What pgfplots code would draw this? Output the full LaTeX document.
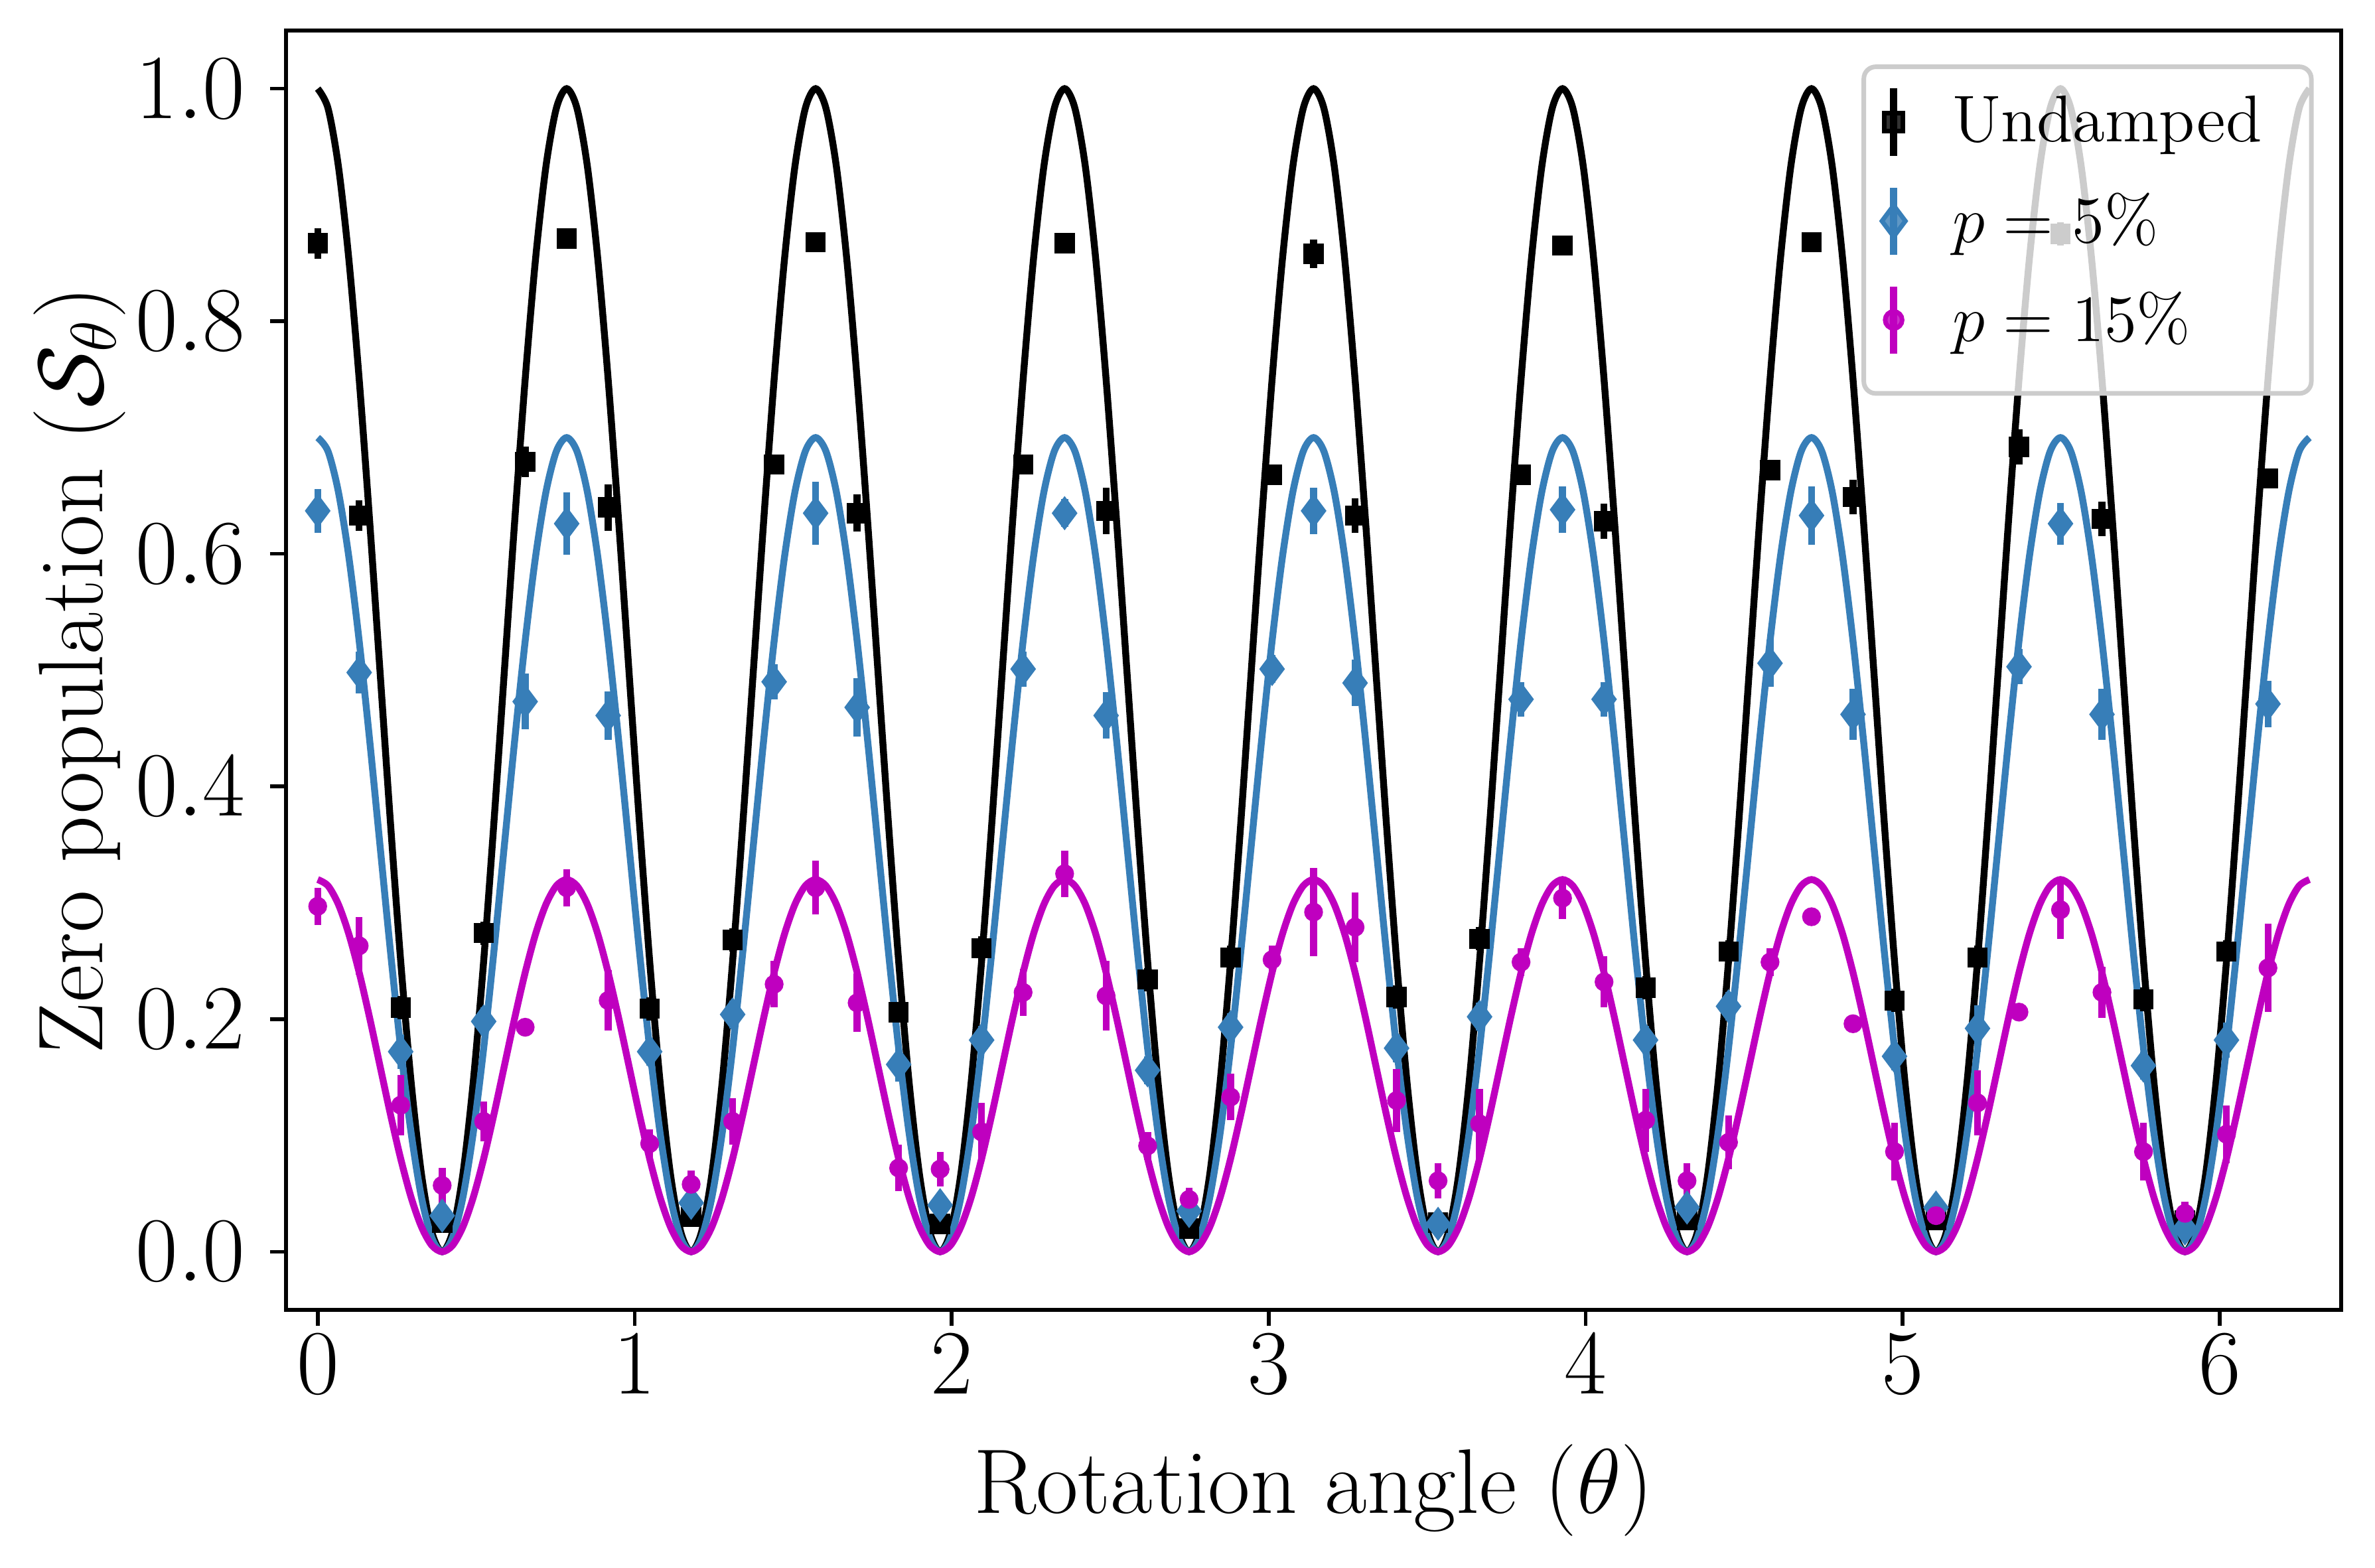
\RequirePackage{fix-cm}
\documentclass[border=0pt]{standalone}
\usepackage{pgfplots}
\usepackage{pgfplotstable}
\pgfplotsset{compat=1.18}
\definecolor{cblue}{RGB}{55,126,184}
\definecolor{cmag}{RGB}{191,0,191}

\pgfplotstableread{
x a b c
0.00000 1 0.7 0.32
0.03272 0.98296 0.68807 0.31455
0.06545 0.93301 0.65311 0.29856
0.09817 0.85355 0.59749 0.27314
0.13090 0.75 0.525 0.24
0.16362 0.62941 0.44059 0.20141
0.19635 0.5 0.35 0.16
0.22907 0.37059 0.25941 0.11859
0.26180 0.25 0.175 0.08
0.29452 0.14645 0.10252 0.04686
0.32725 0.06699 0.04689 0.02144
0.35997 0.01704 0.01193 0.00545
0.39270 0 0 0
0.42542 0.01704 0.01193 0.00545
0.45815 0.06699 0.04689 0.02144
0.49087 0.14645 0.10252 0.04686
0.52360 0.25 0.175 0.08
0.55632 0.37059 0.25941 0.11859
0.58905 0.5 0.35 0.16
0.62177 0.62941 0.44059 0.20141
0.65450 0.75 0.525 0.24
0.68722 0.85355 0.59749 0.27314
0.71995 0.93301 0.65311 0.29856
0.75267 0.98296 0.68807 0.31455
0.78540 1 0.7 0.32
0.81812 0.98296 0.68807 0.31455
0.85085 0.93301 0.65311 0.29856
0.88357 0.85355 0.59749 0.27314
0.91630 0.75 0.525 0.24
0.94902 0.62941 0.44059 0.20141
0.98175 0.5 0.35 0.16
1.01447 0.37059 0.25941 0.11859
1.04720 0.25 0.175 0.08
1.07992 0.14645 0.10252 0.04686
1.11265 0.06699 0.04689 0.02144
1.14537 0.01704 0.01193 0.00545
1.17810 0 0 0
1.21082 0.01704 0.01193 0.00545
1.24355 0.06699 0.04689 0.02144
1.27627 0.14645 0.10252 0.04686
1.30900 0.25 0.175 0.08
1.34172 0.37059 0.25941 0.11859
1.37445 0.5 0.35 0.16
1.40717 0.62941 0.44059 0.20141
1.43990 0.75 0.525 0.24
1.47262 0.85355 0.59749 0.27314
1.50535 0.93301 0.65311 0.29856
1.53807 0.98296 0.68807 0.31455
1.57080 1 0.7 0.32
1.60352 0.98296 0.68807 0.31455
1.63625 0.93301 0.65311 0.29856
1.66897 0.85355 0.59749 0.27314
1.70170 0.75 0.525 0.24
1.73442 0.62941 0.44059 0.20141
1.76715 0.5 0.35 0.16
1.79987 0.37059 0.25941 0.11859
1.83260 0.25 0.175 0.08
1.86532 0.14645 0.10252 0.04686
1.89805 0.06699 0.04689 0.02144
1.93077 0.01704 0.01193 0.00545
1.96350 0 0 0
1.99622 0.01704 0.01193 0.00545
2.02895 0.06699 0.04689 0.02144
2.06167 0.14645 0.10252 0.04686
2.09440 0.25 0.175 0.08
2.12712 0.37059 0.25941 0.11859
2.15985 0.5 0.35 0.16
2.19257 0.62941 0.44059 0.20141
2.22530 0.75 0.525 0.24
2.25802 0.85355 0.59749 0.27314
2.29075 0.93301 0.65311 0.29856
2.32347 0.98296 0.68807 0.31455
2.35619 1 0.7 0.32
2.38891 0.98296 0.68807 0.31455
2.42164 0.93301 0.65311 0.29856
2.45436 0.85355 0.59749 0.27314
2.48709 0.75 0.525 0.24
2.51981 0.62941 0.44059 0.20141
2.55254 0.5 0.35 0.16
2.58526 0.37059 0.25941 0.11859
2.61799 0.25 0.175 0.08
2.65071 0.14645 0.10252 0.04686
2.68344 0.06699 0.04689 0.02144
2.71616 0.01704 0.01193 0.00545
2.74889 0 0 0
2.78161 0.01704 0.01193 0.00545
2.81434 0.06699 0.04689 0.02144
2.84706 0.14645 0.10252 0.04686
2.87979 0.25 0.175 0.08
2.91251 0.37059 0.25941 0.11859
2.94524 0.5 0.35 0.16
2.97796 0.62941 0.44059 0.20141
3.01069 0.75 0.525 0.24
3.04341 0.85355 0.59749 0.27314
3.07614 0.93301 0.65311 0.29856
3.10886 0.98296 0.68807 0.31455
3.14159 1 0.7 0.32
3.17431 0.98296 0.68807 0.31455
3.20704 0.93301 0.65311 0.29856
3.23976 0.85355 0.59749 0.27314
3.27249 0.75 0.525 0.24
3.30521 0.62941 0.44059 0.20141
3.33794 0.5 0.35 0.16
3.37066 0.37059 0.25941 0.11859
3.40339 0.25 0.175 0.08
3.43611 0.14645 0.10252 0.04686
3.46884 0.06699 0.04689 0.02144
3.50156 0.01704 0.01193 0.00545
3.53429 0 0 0
3.56701 0.01704 0.01193 0.00545
3.59974 0.06699 0.04689 0.02144
3.63246 0.14645 0.10252 0.04686
3.66519 0.25 0.175 0.08
3.69791 0.37059 0.25941 0.11859
3.73064 0.5 0.35 0.16
3.76336 0.62941 0.44059 0.20141
3.79609 0.75 0.525 0.24
3.82881 0.85355 0.59749 0.27314
3.86154 0.93301 0.65311 0.29856
3.89426 0.98296 0.68807 0.31455
3.92699 1 0.7 0.32
3.95971 0.98296 0.68807 0.31455
3.99244 0.93301 0.65311 0.29856
4.02516 0.85355 0.59749 0.27314
4.05789 0.75 0.525 0.24
4.09061 0.62941 0.44059 0.20141
4.12334 0.5 0.35 0.16
4.15606 0.37059 0.25941 0.11859
4.18879 0.25 0.175 0.08
4.22151 0.14645 0.10252 0.04686
4.25424 0.06699 0.04689 0.02144
4.28696 0.01704 0.01193 0.00545
4.31969 0 0 0
4.35241 0.01704 0.01193 0.00545
4.38514 0.06699 0.04689 0.02144
4.41786 0.14645 0.10252 0.04686
4.45059 0.25 0.175 0.08
4.48331 0.37059 0.25941 0.11859
4.51604 0.5 0.35 0.16
4.54876 0.62941 0.44059 0.20141
4.58149 0.75 0.525 0.24
4.61421 0.85355 0.59749 0.27314
4.64694 0.93301 0.65311 0.29856
4.67966 0.98296 0.68807 0.31455
4.71239 1 0.7 0.32
4.74511 0.98296 0.68807 0.31455
4.77784 0.93301 0.65311 0.29856
4.81056 0.85355 0.59749 0.27314
4.84329 0.75 0.525 0.24
4.87601 0.62941 0.44059 0.20141
4.90874 0.5 0.35 0.16
4.94146 0.37059 0.25941 0.11859
4.97419 0.25 0.175 0.08
5.00691 0.14645 0.10252 0.04686
5.03964 0.06699 0.04689 0.02144
5.07236 0.01704 0.01193 0.00545
5.10509 0 0 0
5.13781 0.01704 0.01193 0.00545
5.17054 0.06699 0.04689 0.02144
5.20326 0.14645 0.10252 0.04686
5.23599 0.25 0.175 0.08
5.26871 0.37059 0.25941 0.11859
5.30144 0.5 0.35 0.16
5.33416 0.62941 0.44059 0.20141
5.36689 0.75 0.525 0.24
5.39961 0.85355 0.59749 0.27314
5.43234 0.93301 0.65311 0.29856
5.46506 0.98296 0.68807 0.31455
5.49779 1 0.7 0.32
5.53051 0.98296 0.68807 0.31455
5.56324 0.93301 0.65311 0.29856
5.59596 0.85355 0.59749 0.27314
5.62869 0.75 0.525 0.24
5.66141 0.62941 0.44059 0.20141
5.69414 0.5 0.35 0.16
5.72686 0.37059 0.25941 0.11859
5.75959 0.25 0.175 0.08
5.79231 0.14645 0.10252 0.04686
5.82504 0.06699 0.04689 0.02144
5.85776 0.01704 0.01193 0.00545
5.89049 0 0 0
5.92321 0.01704 0.01193 0.00545
5.95594 0.06699 0.04689 0.02144
5.98866 0.14645 0.10252 0.04686
6.02139 0.25 0.175 0.08
6.05411 0.37059 0.25941 0.11859
6.08684 0.5 0.35 0.16
6.11956 0.62941 0.44059 0.20141
6.15229 0.75 0.525 0.24
6.18501 0.85355 0.59749 0.27314
6.21774 0.93301 0.65311 0.29856
6.25046 0.98296 0.68807 0.31455
6.28319 1 0.7 0.32
}\curves

\pgfplotstableread{
x y e
0.0000 0.867 0.013
0.1309 0.633 0.013
0.2618 0.210 0.010
0.3927 0.025 0.008
0.5236 0.274 0.010
0.6545 0.679 0.013
0.7854 0.871 0.008
0.9163 0.640 0.020
1.0472 0.209 0.010
1.1781 0.030 0.008
1.3090 0.268 0.010
1.4399 0.677 0.008
1.5708 0.868 0.008
1.7017 0.635 0.016
1.8326 0.206 0.008
1.9635 0.024 0.008
2.0944 0.261 0.010
2.2253 0.677 0.008
2.3562 0.867 0.008
2.4871 0.637 0.020
2.6180 0.234 0.010
2.7489 0.020 0.008
2.8798 0.253 0.010
3.0107 0.668 0.008
3.1416 0.858 0.012
3.2725 0.633 0.015
3.4034 0.219 0.010
3.5343 0.025 0.008
3.6652 0.269 0.010
3.7961 0.668 0.008
3.9270 0.865 0.008
4.0579 0.628 0.015
4.1888 0.227 0.010
4.3197 0.027 0.008
4.4506 0.258 0.010
4.5815 0.672 0.008
4.7124 0.868 0.008
4.8433 0.649 0.015
4.9742 0.216 0.010
5.1051 0.027 0.008
5.2360 0.253 0.010
5.3669 0.692 0.015
5.4978 0.875 0.010
5.6287 0.630 0.015
5.7596 0.217 0.010
5.8905 0.027 0.008
6.0214 0.258 0.010
6.1523 0.665 0.008
}\blackdata

\pgfplotstableread{
x y e
0.0000 0.637 0.019
0.1309 0.498 0.018
0.2618 0.172 0.015
0.3927 0.031 0.010
0.5236 0.198 0.012
0.6545 0.473 0.024
0.7854 0.626 0.027
0.9163 0.461 0.021
1.0472 0.172 0.012
1.1781 0.042 0.010
1.3090 0.204 0.012
1.4399 0.490 0.015
1.5708 0.635 0.027
1.7017 0.468 0.025
1.8326 0.161 0.015
1.9635 0.040 0.010
2.0944 0.182 0.012
2.2253 0.501 0.015
2.3562 0.635 0.012
2.4871 0.461 0.020
2.6180 0.156 0.012
2.7489 0.035 0.010
2.8798 0.193 0.012
3.0107 0.501 0.012
3.1416 0.637 0.020
3.2725 0.489 0.020
3.4034 0.175 0.012
3.5343 0.024 0.010
3.6652 0.202 0.012
3.7961 0.475 0.015
3.9270 0.638 0.020
4.0579 0.475 0.015
4.1888 0.182 0.012
4.3197 0.038 0.010
4.4506 0.211 0.012
4.5815 0.506 0.020
4.7124 0.633 0.025
4.8433 0.462 0.022
4.9742 0.168 0.012
5.1051 0.038 0.010
5.2360 0.192 0.020
5.3669 0.503 0.015
5.4978 0.626 0.018
5.6287 0.462 0.022
5.7596 0.160 0.012
5.8905 0.020 0.010
6.0214 0.182 0.015
6.1523 0.471 0.020
}\bluedata

\pgfplotstableread{
x y e
0.0000 0.297 0.016
0.1309 0.263 0.025
0.2618 0.126 0.026
0.3927 0.057 0.015
0.5236 0.112 0.017
0.6545 0.193 0.005
0.7854 0.313 0.016
0.9163 0.216 0.026
1.0472 0.093 0.012
1.1781 0.058 0.012
1.3090 0.112 0.020
1.4399 0.230 0.020
1.5708 0.313 0.023
1.7017 0.214 0.025
1.8326 0.072 0.020
1.9635 0.071 0.015
2.0944 0.103 0.025
2.2253 0.223 0.020
2.3562 0.325 0.020
2.4871 0.220 0.030
2.6180 0.091 0.012
2.7489 0.045 0.010
2.8798 0.133 0.020
3.0107 0.251 0.012
3.1416 0.292 0.038
3.2725 0.279 0.030
3.4034 0.130 0.027
3.5343 0.061 0.015
3.6652 0.110 0.030
3.7961 0.249 0.012
3.9270 0.304 0.018
4.0579 0.232 0.022
4.1888 0.113 0.027
4.3197 0.061 0.015
4.4506 0.094 0.023
4.5815 0.249 0.012
4.7124 0.288 0.005
4.8433 0.196 0.005
4.9742 0.086 0.025
5.1051 0.031 0.008
5.2360 0.128 0.028
5.3669 0.206 0.005
5.4978 0.294 0.025
5.6287 0.223 0.022
5.7596 0.086 0.025
5.8905 0.033 0.010
6.0214 0.101 0.025
6.1523 0.244 0.038
}\magdata

\begin{document}
\begin{tikzpicture}
\begin{axis}[
  scale only axis,
  width=447.6pt, height=278.65pt,
  xmin=-0.1, xmax=6.3832, ymin=-0.05, ymax=1.05,
  xtick={0,1,2,3,4,5,6},
  ytick={0,0.2,0.4,0.6,0.8,1.0},
  tick label style={font=\fontsize{20}{24}\selectfont},
  xticklabel style={inner sep=0pt, anchor=north, yshift=-1.7pt},
  yticklabel style={inner sep=0pt, anchor=east, xshift=-5.2pt,
    /pgf/number format/fixed, /pgf/number format/fixed zerofill, /pgf/number format/precision=1},
  tick align=outside, xtick pos=bottom, ytick pos=left,
  major tick length=3.5pt,
  every tick/.style={line width=0.8pt, black},
  axis line style={line width=0.8pt},
  xlabel={Rotation angle ($\theta$)},
  ylabel={Zero population ($\mathcal{S}_\theta$)},
  every axis x label/.style={at={(axis description cs:0.5,-0.1592)}, anchor=base,
    font=\fontsize{20}{24}\selectfont},
  every axis y label/.style={at={(axis description cs:-0.0894,0.5)}, rotate=90, anchor=base,
    font=\fontsize{20}{24}\selectfont},
  legend style={
    at={(axis description cs:1,1)}, anchor=north east, xshift=-6.0pt, yshift=-7.4pt,
    font=\fontsize{14.4}{17}\selectfont,
    draw=black!20, line width=1pt, rounded corners=2.6pt,
    fill=white, fill opacity=0.8, text opacity=1,
    inner xsep=3.6pt, inner ysep=4pt,
    nodes={inner sep=0pt},
    row sep=1.5pt, column sep=7.8pt,
    cells={anchor=west},
  },
  legend image code/.code={
    \draw[#1, line width=1.5pt, rounded corners=0pt] (0pt,-7.3pt) -- (0pt,7.3pt);
    \draw[#1] plot coordinates {(0pt,0pt)};
    \path[draw=none, fill=none] (-2.9pt,-12pt) rectangle (5pt,7.3pt);
  },
]
\addplot[black, line width=1.5pt, smooth, forget plot] table[x=x, y=a] {\curves};
\addplot[cblue, line width=1.5pt, smooth, forget plot] table[x=x, y=b] {\curves};
\addplot[cmag, line width=1.5pt, smooth, forget plot] table[x=x, y=c] {\curves};

\addplot[black, only marks, mark=square*, mark size=2pt,
  error bars/.cd, y dir=both, y explicit, error mark=none,
  error bar style={line width=1.5pt}]
  table[x=x, y=y, y error=e] {\blackdata};
\addlegendentry{Undamped\rule{7.2pt}{0pt}}
\addplot[cblue, only marks, mark=diamond*, mark size=3.4pt,
  error bars/.cd, y dir=both, y explicit, error mark=none,
  error bar style={line width=1.5pt}]
  table[x=x, y=y, y error=e] {\bluedata};
\addlegendentry{$p=5\%$}
\addplot[cmag, only marks, mark=*, mark size=1.85pt,
  error bars/.cd, y dir=both, y explicit, error mark=none,
  error bar style={line width=1.5pt}]
  table[x=x, y=y, y error=e] {\magdata};
\addlegendentry{$p=15\%$}
\end{axis}
\pgfresetboundingbox
\path[use as bounding box] (-62.29pt,-56.08pt) rectangle (454.97pt,285.3pt);
\end{tikzpicture}
\end{document}
